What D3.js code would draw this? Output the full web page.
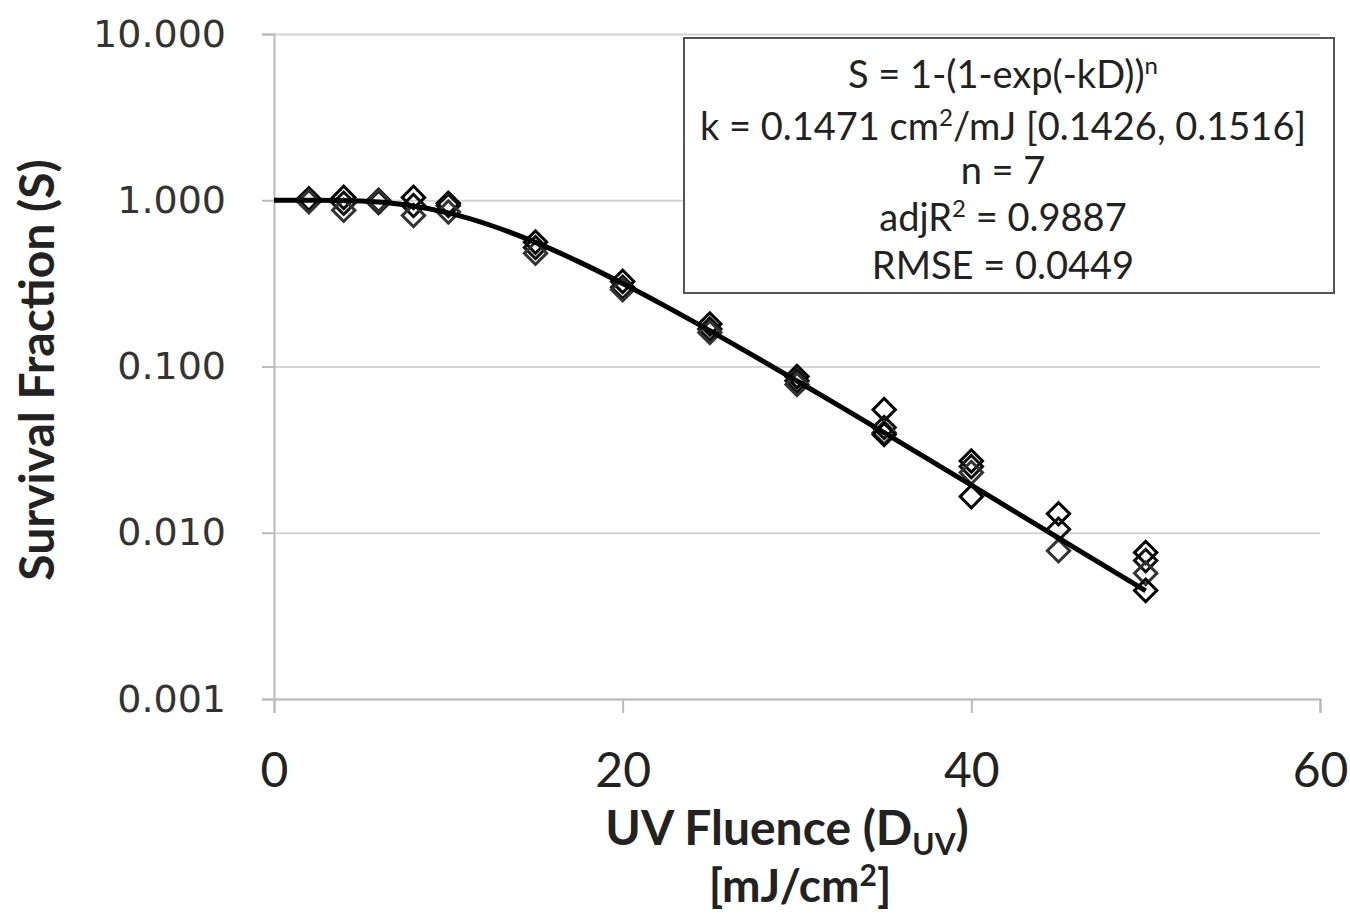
<!DOCTYPE html>
<html lang="en">
<head>
    <meta charset="UTF-8">
    <title>UV survival curve</title>
    <script src="https://cdn.jsdelivr.net/npm/d3@7/dist/d3.min.js"></script>
    <style>
        body { margin: 0; background: #fff; }
        text { font-family: Lato, "Open Sans", sans-serif; }
    </style>
</head>
<body>
    <script>
        // dose values (mJ/cm2) and replicate survival fractions
        var dose = [2, 4, 6, 8, 10, 15, 20, 25, 30, 35, 40, 45, 50];
        var rep1 = [1.02, 1.04, 1.00, 1.04, 0.96, 0.56, 0.325, 0.180, 0.087, 0.055, 0.027, 0.0130, 0.0076];
        var rep2 = [1.00, 0.96, 0.97, 0.93, 0.93, 0.52, 0.300, 0.168, 0.082, 0.043, 0.025, 0.0105, 0.0068];
        var rep3 = [0.98, 0.87, 0.99, 0.81, 0.85, 0.48, 0.290, 0.160, 0.078, 0.040, 0.023, 0.0078, 0.0057];
        var rep4 = [null, null, null, null, null, null, null, null, null, 0.039, 0.0165, null, 0.0045];

        // fitted curve as drawn (S = 1-(1-exp(-kD))^n), sampled every 2.5 mJ/cm2
        var fitDose = [0, 2.5, 5, 7.5, 10, 12.5, 15, 17.5, 20, 22.5, 25, 27.5, 30, 32.5, 35, 37.5, 40, 42.5, 45, 47.5, 50];
        var fitS = [1.0, 0.9997, 0.9896, 0.9405, 0.8391, 0.7024, 0.558, 0.4259, 0.3157, 0.2293, 0.1642, 0.1163,
                    0.0818, 0.0573, 0.0400, 0.0278, 0.01933, 0.01341, 0.0093, 0.00645, 0.00447];

        var xTicks = [0, 20, 40, 60];
        var yTicks = [0.001, 0.01, 0.1, 1, 10];
        var repColors = ["#000", "#111", "#333", "#000"];

        var width = 1350, height = 916;
        var pLeft = 274, pRight = 1320, pTop = 34, pBottom = 699;

        var svg = d3.select("body").append("svg").attr("width", width).attr("height", height);

        var x = d3.scaleLinear().domain([0, 60]).range([pLeft, pRight]);
        var y = d3.scaleLog().domain([0.001, 10]).range([pBottom, pTop]);

        // horizontal gridlines
        svg.append("g")
            .attr("transform", "translate(" + pLeft + ",0)")
            .call(d3.axisLeft(y).tickValues(yTicks).tickSize(-(pRight - pLeft)).tickFormat(""))
            .call(function(g) {
                g.select(".domain").remove();
                g.selectAll("line").attr("stroke", "#d4d4d4").attr("stroke-width", 2);
            });

        // y axis
        svg.append("g")
            .attr("transform", "translate(" + pLeft + ",0)")
            .call(d3.axisLeft(y).tickValues(yTicks).tickSize(12).tickPadding(36).tickFormat(d3.format(".3f")))
            .call(function(g) {
                g.select(".domain").attr("stroke", "#bbb").attr("stroke-width", 2);
                g.selectAll("line").attr("stroke", "#bbb").attr("stroke-width", 2);
                g.selectAll("text").attr("fill", "#333").style("font-family", "'DejaVu Sans', sans-serif").style("font-size", "38px");
            });

        // x axis
        svg.append("g")
            .attr("transform", "translate(0," + pBottom + ")")
            .call(d3.axisBottom(x).tickValues(xTicks).tickSize(14).tickPadding(40))
            .call(function(g) {
                g.select(".domain").attr("stroke", "#bbb").attr("stroke-width", 2);
                g.selectAll("line").attr("stroke", "#bbb").attr("stroke-width", 2);
                g.selectAll("text").attr("fill", "#222").style("font-size", "48px");
            });

        // markers: hollow diamonds
        var reps = [rep1, rep2, rep3, rep4];
        var diamond = d3.symbol().type(d3.symbolSquare).size(250);
        reps.forEach(function(rep, r) {
            var pts = dose.map(function(d, i) { return [d, rep[i]]; }).filter(function(p) { return p[1] != null; });
            svg.append("g").selectAll("path")
                .data(pts)
                .enter()
                .append("path")
                .attr("d", diamond)
                .attr("transform", function(p) { return "translate(" + x(p[0]) + "," + y(p[1]) + ") rotate(45)"; })
                .attr("fill", "none")
                .attr("stroke", repColors[r])
                .attr("stroke-width", 3);
        });

        // fitted line
        var line = d3.line()
            .x(function(d, i) { return x(fitDose[i]); })
            .y(function(d) { return y(d); })
            .curve(d3.curveMonotoneX);
        svg.append("path")
            .datum(fitS)
            .attr("d", line)
            .attr("fill", "none")
            .attr("stroke", "#000")
            .attr("stroke-width", 5);

        // axis titles
        var xt = svg.append("text")
            .attr("x", 787).attr("y", 845)
            .attr("text-anchor", "middle")
            .style("font-size", "48px").style("font-weight", "bold").attr("fill", "#222");
        xt.append("tspan").text("UV Fluence (D");
        xt.append("tspan").attr("dy", 10).style("font-size", "30px").text("UV");
        xt.append("tspan").attr("dy", -10).text(")");

        var xt2 = svg.append("text")
            .attr("x", 800).attr("y", 902)
            .attr("text-anchor", "middle")
            .style("font-size", "46px").style("font-weight", "bold").attr("fill", "#222");
        xt2.append("tspan").text("[mJ/cm");
        xt2.append("tspan").attr("dy", -16).style("font-size", "30px").text("2");
        xt2.append("tspan").attr("dy", 16).text("]");

        svg.append("text")
            .attr("transform", "translate(54,370) rotate(-90)")
            .attr("text-anchor", "middle")
            .style("font-size", "48px").style("font-weight", "bold").attr("fill", "#222")
            .text("Survival Fraction (S)");

        // fit statistics box
        svg.append("rect")
            .attr("x", 684).attr("y", 38).attr("width", 650).attr("height", 255)
            .attr("fill", "#fff").attr("stroke", "#555").attr("stroke-width", 2);

        var cx = 1003;
        function boxLine(yPos, parts) {
            var t = svg.append("text").attr("x", cx).attr("y", yPos).attr("text-anchor", "middle")
                .style("font-size", "38px").attr("fill", "#222");
            parts.forEach(function(p) {
                var s = t.append("tspan").text(p[0]);
                if (p[1] === "sup") s.attr("dy", -14).style("font-size", "24px");
                if (p[1] === "down") s.attr("dy", 14);
            });
        }
        boxLine(88, [["S = 1-(1-exp(-kD))"], ["n", "sup"]]);
        boxLine(140, [["k = 0.1471 cm"], ["2", "sup"], ["/mJ [0.1426, 0.1516]", "down"]]);
        boxLine(184, [["n = 7"]]);
        boxLine(231, [["adjR"], ["2", "sup"], [" = 0.9887", "down"]]);
        boxLine(279, [["RMSE = 0.0449"]]);
    </script>
</body>
</html>
